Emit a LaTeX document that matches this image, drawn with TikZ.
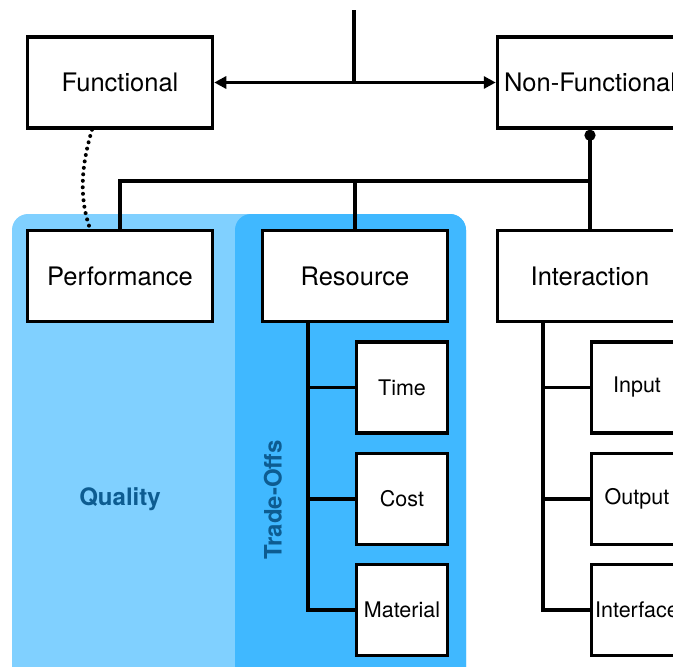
\documentclass[tikz,border=0pt]{standalone}
\usepackage{fontspec}
\setmainfont{TeX Gyre Heros}
\usetikzlibrary{arrows.meta}
\definecolor{qualityblue}{HTML}{80D0FF}
\definecolor{tradeblue}{HTML}{40B8FF}
\definecolor{labelblue}{HTML}{0D5C91}

\begin{document}
\begin{tikzpicture}[x=1pt, y=-1pt,
    reqbox/.style={draw, line width=3.5pt, fill=white, minimum width=185pt, minimum height=91pt, inner sep=0pt, font=\fontsize{25.5}{30}\selectfont},
    subbox/.style={draw, line width=3.5pt, fill=white, minimum width=91pt, minimum height=91pt, inner sep=0pt, font=\fontsize{21.5}{25}\selectfont},
    link/.style={line width=3.5pt},
    grouplabel/.style={text=labelblue, font=\fontsize{24}{28}\selectfont\bfseries}]

        % 1. Canvas (the right column is cut off at the edge)
        \useasboundingbox (0,0) rectangle (673,667);
        \clip (0,0) rectangle (673,667);

        % 2. Groups behind the boxes
        \fill[qualityblue, rounded corners=16pt] (12,214) rectangle (466,690);
        \fill[tradeblue, rounded corners=16pt] (235,214) rectangle (466,690);
        \node[grouplabel] (quality) at (120,499) {Quality};
        \node[grouplabel, rotate=90] (tradeoffs) at (273,500) {Trade-Offs};

        % 3. Requirement boxes
        \node[reqbox] (func) at (120,82.5) {Functional};
        \node[reqbox] (nonfunc) at (590,82.5) {Non-Functional};

        \node[reqbox] (perf) at (120,276) {Performance};
        \node[reqbox] (res) at (355,276) {Resource};
        \node[reqbox] (inter) at (590,276) {Interaction};

        % Sub-boxes under Resource and Interaction
        \node[subbox] (time) at (402,387.5) {Time};
        \node[subbox] (cost) at (402,499) {Cost};
        \node[subbox] (material) at (402,610) {Material};

        \node[subbox] (input) at (637,387.5) {Input};
        \node[subbox] (output) at (637,499) {Output};
        \node[subbox] (interface) at (637,610) {Interface};

        % 4. Top split into Functional / Non-Functional
        \coordinate (top) at (354,10);
        \draw[link] (top) -- (top |- func.east);
        \draw[link, {Triangle[length=12pt,width=12pt]}-{Triangle[length=12pt,width=12pt]}] (func.east) -- (nonfunc.west);

        % 5. Non-Functional bus
        \coordinate (bus) at (590,181);
        \draw[link, {Circle[length=11pt]}-] (nonfunc.south) -- (inter.north);
        \draw[link] (perf.north) |- (bus);
        \draw[link] (res.north) -- (res.north |- bus);

        % Functional relates to Performance
        \draw[line width=4pt, line cap=round, dash pattern=on 0pt off 6.5pt]
            ([xshift=-28pt]func.south) .. controls (80,170) and (80,200) .. ([xshift=-30pt]perf.north);

        % 6. Trunks to the sub-boxes
        \coordinate (restrunk) at ([xshift=-47pt]res.south);
        \coordinate (intertrunk) at ([xshift=-47pt]inter.south);
        \draw[link] (restrunk) |- (material.west);
        \draw[link] (intertrunk) |- (interface.west);
        \foreach \n in {time, cost}
            \draw[link] (\n.west) -- (\n.west -| restrunk);
        \foreach \n in {input, output}
            \draw[link] (\n.west) -- (\n.west -| intertrunk);

    \end{tikzpicture}
\end{document}
